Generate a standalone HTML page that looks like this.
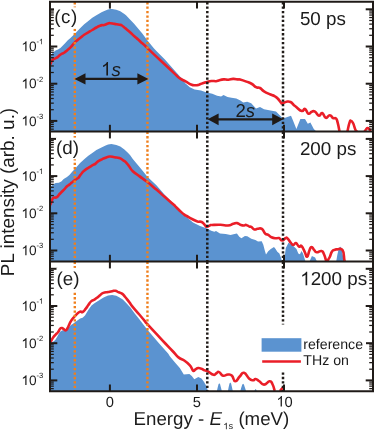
<!DOCTYPE html>
<html><head><meta charset="utf-8"><title>PL spectra</title>
<style>html,body{margin:0;padding:0;background:#fff;}svg text{font-family:"Liberation Sans",sans-serif;text-rendering:geometricPrecision;}body{width:374px;height:430px;overflow:hidden;position:relative;font-family:"Liberation Sans",sans-serif;}</style></head>
<body>
<svg width="374" height="430" viewBox="0 0 374 430" style="display:block;position:absolute;left:0;top:0" fill="#1f1a17">
<rect width="374" height="430" fill="#fff"/>
<clipPath id="cp0"><rect x="50.0" y="1.7" width="322.6" height="129.9"/></clipPath>
<clipPath id="cp1"><rect x="50.0" y="131.6" width="322.6" height="130.00000000000003"/></clipPath>
<clipPath id="cp2"><rect x="50.0" y="261.6" width="322.6" height="129.7"/></clipPath>
<g clip-path="url(#cp0)"><polygon points="50.0,131.6 50.0,55.5 51.1,54.5 53.1,52.5 55.6,50.4 58.0,49.6 60.4,48.0 62.9,45.6 65.3,43.1 67.8,40.3 70.2,38.3 72.0,36.5 76.1,32.4 80.1,28.3 84.2,24.3 88.3,21.0 92.3,17.8 96.4,15.3 102.0,12.1 105.5,10.4 108.0,9.5 110.5,9.1 112.2,9.0 116.3,9.7 120.3,11.3 124.4,13.9 126.0,15.2 130.0,19.5 134.1,23.8 142.3,33.5 147.1,40.0 153.6,48.1 156.4,51.0 164.9,59.6 173.5,69.2 180.0,76.4 184.0,80.8 185.0,82.9 189.8,87.2 194.6,89.6 201.0,90.4 206.7,92.5 212.3,93.7 217.1,95.7 221.1,96.4 223.5,94.9 227.5,96.9 231.5,97.7 236.3,98.5 240.4,100.6 243.2,102.5 247.2,101.7 251.2,103.3 256.0,108.5 260.0,107.0 264.0,109.2 270.5,110.5 276.0,111.5 283.0,118.4 291.0,115.7 293.0,120.4 296.4,129.0 300.4,119.0 305.0,119.0 307.8,123.7 310.4,122.4 313.8,129.0 316.4,131.5 316.4,131.6" fill="#5b93d0"/><path d="M49.5,65.5C49.8,65.0 50.0,64.9 50.7,63.5C51.4,62.1 51.2,61.5 52.3,60.2C53.4,58.9 53.5,59.3 54.8,58.6C56.1,57.9 55.9,58.3 57.2,57.4C58.5,56.5 58.3,56.3 59.6,55.3C60.9,54.3 60.8,54.4 62.1,53.7C63.4,53.0 63.2,53.4 64.5,52.5C65.8,51.6 65.7,51.5 67.0,50.4C68.3,49.3 68.1,49.6 69.4,48.4C70.7,47.2 70.2,47.7 71.8,46.0C73.4,44.3 73.1,44.0 75.3,41.9C77.5,39.8 77.7,40.0 80.1,38.1C82.5,36.2 82.0,36.3 84.2,34.8C86.4,33.3 86.1,33.7 88.3,32.4C90.5,31.1 90.1,31.3 92.3,30.0C94.5,28.7 94.5,28.6 96.4,27.5C98.3,26.4 98.1,26.5 99.6,25.9C101.1,25.3 100.8,25.3 102.0,25.1C103.2,24.9 102.5,25.5 104.1,25.1C105.7,24.7 106.5,24.1 108.1,23.6C109.7,23.1 108.5,23.1 110.2,23.2C111.9,23.3 112.1,23.5 114.6,23.9C117.1,24.3 117.5,24.3 119.5,24.7C121.5,25.1 120.7,24.7 122.0,25.5C123.3,26.3 123.3,26.7 124.4,27.6C125.5,28.5 124.5,27.5 126.0,28.8C127.5,30.1 127.9,30.4 130.1,32.3C132.3,34.2 131.9,34.1 134.1,36.0C136.3,37.9 136.0,37.7 138.2,39.6C140.4,41.5 140.1,41.4 142.3,43.3C144.5,45.2 144.8,45.5 146.3,46.9C147.8,48.3 145.3,46.0 148.0,48.6C150.7,51.2 151.9,52.4 156.4,56.6C160.9,60.8 160.3,60.2 164.9,64.5C169.5,68.8 170.5,69.8 173.5,72.6C176.5,75.4 174.2,73.4 176.0,75.0C177.8,76.6 177.7,77.0 180.3,78.7C182.9,80.4 182.7,79.9 185.6,81.4C188.5,82.9 188.4,83.5 191.0,84.5C193.6,85.5 193.2,85.2 195.3,85.3C197.4,85.4 197.0,85.3 199.0,84.7C201.0,84.1 200.6,83.9 202.7,83.2C204.8,82.5 204.7,82.6 207.0,82.0C209.3,81.4 208.9,81.2 211.3,81.0C213.7,80.8 214.0,81.3 216.0,81.2C218.0,81.1 216.7,81.0 218.7,80.5C220.7,80.0 220.9,79.6 223.5,79.4C226.1,79.2 225.7,79.8 228.3,79.7C230.9,79.6 230.5,79.0 233.1,78.9C235.7,78.8 236.1,79.2 237.9,79.4C239.7,79.6 237.7,78.9 240.0,79.5C242.3,80.1 243.2,80.4 246.4,81.6C249.6,82.8 249.4,82.5 252.0,84.0C254.6,85.5 253.9,86.1 256.0,87.2C258.1,88.3 257.9,86.9 260.0,88.0C262.1,89.1 261.2,89.6 264.0,91.3C266.8,93.0 267.7,93.2 270.5,94.5C273.3,95.8 272.6,95.0 274.5,96.1C276.4,97.2 276.0,96.8 277.7,98.5C279.4,100.2 279.6,101.2 280.9,102.5C282.2,103.8 281.0,103.5 282.5,103.3C284.0,103.1 284.4,102.0 286.5,101.7C288.6,101.4 288.6,101.1 290.5,102.0C292.4,102.9 292.2,103.6 293.7,104.9C295.2,106.2 293.9,105.2 296.0,106.8C298.1,108.4 299.3,110.4 301.7,111.0C304.1,111.6 303.2,108.3 305.0,109.0C306.8,109.7 306.6,113.0 308.4,113.7C310.2,114.4 310.0,112.2 311.8,111.7C313.6,111.2 313.1,110.6 315.0,111.7C316.9,112.8 317.1,115.4 319.0,115.7C320.9,116.0 320.4,112.4 322.2,113.0C324.0,113.6 323.8,117.2 325.8,117.8C327.8,118.4 327.9,115.1 329.8,115.2C331.7,115.3 331.4,117.1 333.0,118.0C334.6,118.9 334.7,117.2 335.9,118.4C337.1,119.6 336.6,118.9 337.6,122.4C338.6,125.9 339.0,129.1 339.5,131.5" fill="none" stroke="#ea1e28" stroke-width="2.6" stroke-linejoin="round" stroke-linecap="butt"/><path d="M347.4,131.5C348.0,129.1 348.6,125.2 349.6,122.4C350.6,119.6 350.1,120.8 351.0,121.0C351.9,121.2 351.8,120.7 353.0,123.0C354.2,125.3 354.3,127.4 355.4,129.7C356.5,132.0 356.6,131.0 357.0,131.5" fill="none" stroke="#ea1e28" stroke-width="2.6" stroke-linejoin="round" stroke-linecap="butt"/><path d="M364.5,131.5C364.9,131.0 365.2,130.4 366.0,129.5C366.8,128.6 366.7,128.0 367.6,128.0C368.5,128.0 368.7,128.6 369.5,129.5C370.3,130.4 370.2,131.0 370.5,131.5" fill="none" stroke="#ea1e28" stroke-width="2.6" stroke-linejoin="round" stroke-linecap="butt"/></g>
<g clip-path="url(#cp1)"><polygon points="50.0,261.6 50.0,187.0 51.1,186.3 53.1,184.6 55.6,183.0 58.8,182.8 61.3,181.4 63.7,178.9 67.0,176.9 69.4,174.9 72.0,171.9 76.1,167.4 80.1,163.0 84.2,159.3 88.3,155.8 92.3,153.0 96.4,150.1 102.0,147.2 105.6,145.4 108.1,144.4 111.4,144.0 116.3,144.9 120.3,146.6 124.4,149.5 127.6,152.4 130.0,155.0 132.8,158.9 141.4,169.3 147.4,176.7 156.4,185.3 164.9,194.9 173.5,203.7 182.0,212.6 185.0,215.7 193.0,222.4 200.0,225.9 207.2,228.6 211.2,230.7 214.4,231.8 216.0,231.0 220.0,233.4 225.7,233.9 230.5,235.1 234.5,233.9 236.9,233.4 239.3,236.7 241.4,238.3 244.9,235.9 247.3,236.2 251.3,238.7 255.4,239.9 258.0,241.5 261.7,241.2 263.3,244.8 265.0,251.3 266.0,254.5 268.2,251.3 270.8,249.1 274.0,247.0 275.6,249.1 277.3,251.8 279.4,253.4 281.0,257.7 281.8,260.6 283.6,260.6 284.5,258.0 285.8,248.0 288.5,242.8 291.2,244.3 294.4,247.0 296.5,249.1 298.3,253.4 299.9,254.3 301.5,251.0 303.0,253.5 305.5,261.5 309.5,261.5 311.9,255.9 315.1,257.5 317.0,261.5 336.2,261.5 337.3,255.0 338.3,250.5 339.4,247.2 340.3,246.7 341.2,247.8 342.2,252.0 343.2,257.0 344.0,261.5 344.0,261.6" fill="#5b93d0"/><path d="M49.5,206.0C49.9,205.2 50.4,204.7 51.1,202.9C51.8,201.1 51.6,200.7 52.3,199.3C53.0,197.9 52.7,198.2 53.9,197.6C55.1,197.0 55.3,198.2 56.8,197.2C58.3,196.2 58.2,195.5 59.6,194.0C61.0,192.5 60.8,192.8 62.1,191.5C63.4,190.2 63.2,190.5 64.5,189.1C65.8,187.7 65.7,187.5 67.0,186.3C68.3,185.1 68.1,185.6 69.4,184.6C70.7,183.6 70.4,183.7 71.8,182.6C73.2,181.5 72.9,181.5 74.5,180.4C76.1,179.3 76.4,179.3 77.7,178.3C79.0,177.3 78.2,178.0 79.3,176.6C80.4,175.2 80.5,174.8 81.8,173.2C83.1,171.6 82.5,172.1 84.2,170.7C85.9,169.3 86.1,169.2 88.3,167.8C90.5,166.4 90.4,166.5 92.3,165.4C94.2,164.3 94.1,164.7 95.6,163.6C97.1,162.5 96.3,162.5 98.0,161.4C99.7,160.3 100.0,160.3 102.0,159.3C104.0,158.3 103.5,158.4 105.6,157.7C107.7,157.0 107.3,156.6 109.7,156.5C112.1,156.4 111.9,156.9 114.5,157.3C117.1,157.7 117.0,157.3 119.3,158.1C121.6,158.9 121.4,159.1 123.3,160.4C125.2,161.7 124.7,161.0 126.4,162.8C128.1,164.6 127.9,164.8 129.6,167.0C131.3,169.2 130.2,168.8 132.8,171.2C135.4,173.6 135.4,173.2 139.3,176.1C143.2,179.0 142.8,178.5 147.4,182.1C152.0,185.7 151.7,185.6 156.4,189.6C161.1,193.6 160.3,193.1 164.9,197.1C169.5,201.1 170.5,202.0 173.5,204.6C176.5,207.2 173.9,205.0 176.0,207.0C178.1,209.0 178.9,209.9 181.3,212.1C183.7,214.3 183.6,214.1 185.0,215.1C186.4,216.1 184.8,215.0 186.7,216.0C188.6,217.0 189.1,217.6 192.0,219.0C194.9,220.4 194.8,220.6 197.4,221.4C200.0,222.2 199.7,221.0 201.7,222.0C203.7,223.0 203.5,223.8 204.9,225.1C206.3,226.4 205.6,226.8 207.0,226.8C208.4,226.8 208.9,225.7 210.2,225.2C211.5,224.7 209.2,225.1 212.0,225.0C214.8,224.9 216.3,224.7 220.6,224.8C224.9,224.9 224.6,225.8 228.0,225.5C231.4,225.2 231.0,224.4 233.4,223.8C235.8,223.2 235.1,222.8 237.1,223.1C239.1,223.4 239.0,224.4 240.9,225.0C242.8,225.6 242.7,225.5 244.1,225.5C245.5,225.5 244.8,224.6 246.2,224.9C247.6,225.2 248.1,226.1 249.4,226.6C250.7,227.1 249.9,226.1 251.2,226.8C252.5,227.5 252.7,228.9 254.4,229.4C256.1,229.9 255.6,228.9 257.6,228.8C259.6,228.7 259.9,227.6 261.9,228.9C263.9,230.2 263.4,231.9 265.1,233.5C266.8,235.1 266.6,233.8 268.3,234.8C270.0,235.8 269.5,236.4 271.5,237.3C273.5,238.2 273.8,238.1 275.8,238.3C277.8,238.5 277.3,237.5 279.0,238.1C280.7,238.7 280.5,240.5 282.2,240.5C283.9,240.5 284.0,238.8 285.4,238.2C286.8,237.6 286.0,237.1 287.5,238.4C289.0,239.7 289.4,241.2 291.0,243.0C292.6,244.8 292.1,245.0 293.4,245.0C294.7,245.0 294.4,242.6 295.9,243.0C297.4,243.4 297.5,245.8 299.0,246.6C300.5,247.4 300.0,244.6 301.5,246.0C303.0,247.4 303.2,248.9 304.7,251.8C306.2,254.7 305.8,257.1 307.1,256.7C308.4,256.3 308.3,252.8 309.5,250.2C310.7,247.6 310.3,247.0 311.6,247.0C312.9,247.0 312.9,248.8 314.3,250.2C315.7,251.6 314.8,252.1 316.7,252.3C318.6,252.5 319.6,250.5 321.5,251.0C323.4,251.5 322.7,251.5 324.0,254.3C325.3,257.1 325.7,259.6 326.3,261.5" fill="none" stroke="#ea1e28" stroke-width="2.6" stroke-linejoin="round" stroke-linecap="butt"/><path d="M326.8,261.5C327.5,260.4 328.1,260.2 329.5,257.5C330.9,254.8 330.5,253.6 332.0,251.5C333.5,249.4 333.6,250.4 335.0,249.8C336.4,249.2 335.2,249.3 337.2,249.4C339.2,249.5 340.6,247.4 342.5,250.1C344.4,252.8 343.7,256.4 344.3,259.4C344.9,262.4 344.5,260.9 344.6,261.5" fill="none" stroke="#ea1e28" stroke-width="2.6" stroke-linejoin="round" stroke-linecap="butt"/></g>
<g clip-path="url(#cp2)"><polygon points="50.0,391.3 50.0,343.8 51.9,342.2 53.9,341.3 55.6,339.5 57.2,336.7 58.8,333.8 60.4,331.4 62.5,330.3 65.3,331.0 68.6,327.7 71.0,324.9 73.0,323.7 75.3,322.0 80.1,318.5 82.6,317.7 85.0,315.6 88.3,310.0 91.5,305.5 94.8,303.0 98.0,301.0 102.0,298.6 104.1,297.2 108.1,295.5 112.2,295.0 116.3,295.8 119.5,297.4 122.8,299.5 126.0,302.7 128.5,305.6 130.0,307.0 134.5,313.2 139.3,319.3 147.2,329.5 158.5,342.7 168.1,353.6 170.0,356.4 175.0,362.4 179.8,368.0 183.8,374.5 189.4,374.1 191.8,376.1 194.3,379.3 198.3,376.9 201.5,378.5 203.9,381.7 206.0,385.5 207.1,388.1 207.9,391.0 216.9,391.0 217.8,387.0 218.5,384.3 219.3,383.2 220.1,384.3 220.8,387.0 221.8,391.0 227.9,391.0 228.8,386.5 229.5,383.6 230.3,382.5 231.1,383.6 231.8,386.5 232.8,391.0 240.3,391.0 241.3,387.5 242.3,384.6 243.1,383.8 243.9,384.6 244.9,387.5 246.1,391.0 254.4,391.0 255.1,389.5 255.6,389.0 256.1,389.5 256.8,391.0 256.8,391.3" fill="#5b93d0"/><path d="M49.5,342.8C49.8,342.5 49.7,342.9 50.7,341.5C51.7,340.1 51.8,339.3 53.1,337.5C54.4,335.7 54.3,336.0 55.6,334.6C56.9,333.2 56.8,333.7 58.0,332.2C59.2,330.7 58.9,329.9 60.0,328.8C61.1,327.7 60.9,327.8 62.1,328.1C63.3,328.4 63.4,329.2 64.5,329.8C65.6,330.4 65.2,330.8 66.1,330.2C67.0,329.6 66.9,329.3 67.8,327.7C68.7,326.1 68.3,326.2 69.4,324.1C70.5,322.0 70.0,322.3 71.8,319.8C73.6,317.3 73.9,317.0 76.1,314.8C78.3,312.6 78.4,312.3 80.1,311.6C81.8,310.9 81.1,312.8 82.6,312.0C84.1,311.2 84.3,310.5 85.8,308.7C87.3,306.9 86.9,307.0 88.3,305.1C89.7,303.2 89.4,302.9 91.1,301.4C92.8,299.9 93.0,300.6 94.8,299.4C96.6,298.2 96.6,298.0 98.0,296.9C99.4,295.8 98.6,296.3 100.0,295.2C101.4,294.1 101.1,293.8 103.3,292.9C105.5,292.0 105.7,292.5 108.1,292.0C110.5,291.5 110.3,291.5 112.2,291.2C114.1,290.9 113.7,290.5 115.4,290.8C117.1,291.1 116.9,291.6 118.7,292.3C120.5,293.0 120.3,292.3 122.0,293.6C123.7,294.9 123.5,295.0 125.2,297.0C126.9,299.0 127.2,299.5 128.5,301.1C129.8,302.7 128.8,301.5 130.0,303.1C131.2,304.7 130.4,304.2 132.9,307.2C135.4,310.2 136.3,311.0 139.3,314.5C142.3,318.0 142.0,317.7 144.2,320.3C146.4,322.9 144.1,320.6 147.4,324.2C150.7,327.8 151.7,328.9 156.4,333.9C161.1,338.9 160.3,338.2 164.9,343.0C169.5,347.8 169.9,348.2 173.5,352.0C177.1,355.8 175.5,355.1 178.5,357.4C181.5,359.7 181.7,358.8 184.6,360.8C187.5,362.8 187.5,362.8 189.4,364.8C191.3,366.8 190.7,366.8 191.8,368.4C192.9,370.0 192.4,370.6 193.4,370.9C194.4,371.2 194.2,370.2 195.5,369.4C196.8,368.6 196.7,368.2 198.3,368.0C199.9,367.8 199.8,368.2 201.5,368.8C203.2,369.4 203.0,369.7 204.7,370.4C206.4,371.1 205.6,370.1 207.9,371.3C210.2,372.5 211.2,374.3 213.5,374.8C215.8,375.3 215.0,373.9 216.5,373.2C218.0,372.5 217.3,371.4 219.1,372.1C220.9,372.8 220.8,375.1 223.1,375.7C225.4,376.3 225.5,374.5 227.9,374.5C230.3,374.5 230.1,373.9 232.0,375.7C233.9,377.5 233.1,381.1 235.2,381.3C237.3,381.5 237.4,378.8 239.7,376.5C242.0,374.2 241.5,372.3 244.0,372.8C246.5,373.3 246.7,376.4 249.0,378.4C251.3,380.4 251.0,380.1 252.8,380.3C254.6,380.5 253.9,378.8 255.6,379.0C257.3,379.2 257.1,379.7 259.3,381.2C261.5,382.7 261.3,384.6 264.0,384.6C266.7,384.6 267.4,381.4 269.6,381.2C271.8,381.0 271.0,381.4 272.4,384.0C273.8,386.6 274.1,389.1 274.7,391.0" fill="none" stroke="#ea1e28" stroke-width="2.6" stroke-linejoin="round" stroke-linecap="butt"/><path d="M280.0,391.0C280.7,390.1 282.0,388.7 282.7,387.8" fill="none" stroke="#ea1e28" stroke-width="2.6" stroke-linejoin="round" stroke-linecap="butt"/></g>
<line x1="74.8" y1="2.10" x2="74.8" y2="131.60" stroke="#f07f1c" stroke-width="2.4" stroke-dasharray="2.3 2.13"/><line x1="74.8" y1="131.65" x2="74.8" y2="261.60" stroke="#f07f1c" stroke-width="2.4" stroke-dasharray="2.3 2.13"/><line x1="74.8" y1="261.65" x2="74.8" y2="391.30" stroke="#f07f1c" stroke-width="2.4" stroke-dasharray="2.3 2.13"/>
<line x1="147.45" y1="2.10" x2="147.45" y2="131.60" stroke="#f07f1c" stroke-width="2.4" stroke-dasharray="2.3 2.13"/><line x1="147.45" y1="131.65" x2="147.45" y2="261.60" stroke="#f07f1c" stroke-width="2.4" stroke-dasharray="2.3 2.13"/><line x1="147.45" y1="261.65" x2="147.45" y2="391.30" stroke="#f07f1c" stroke-width="2.4" stroke-dasharray="2.3 2.13"/>
<line x1="207.3" y1="2.10" x2="207.3" y2="131.60" stroke="#1f1a17" stroke-width="2.5" stroke-dasharray="2.3 2.13"/><line x1="207.3" y1="131.65" x2="207.3" y2="261.60" stroke="#1f1a17" stroke-width="2.5" stroke-dasharray="2.3 2.13"/><line x1="207.3" y1="261.65" x2="207.3" y2="391.30" stroke="#1f1a17" stroke-width="2.5" stroke-dasharray="2.3 2.13"/>
<line x1="283.0" y1="2.10" x2="283.0" y2="131.60" stroke="#1f1a17" stroke-width="2.5" stroke-dasharray="2.3 2.13"/><line x1="283.0" y1="131.65" x2="283.0" y2="261.60" stroke="#1f1a17" stroke-width="2.5" stroke-dasharray="2.3 2.13"/><line x1="283.0" y1="261.65" x2="283.0" y2="391.30" stroke="#1f1a17" stroke-width="2.5" stroke-dasharray="2.3 2.13"/>
<line x1="49.0" y1="1.7" x2="374.0" y2="1.7" stroke="#1f1a17" stroke-width="2"/>
<line x1="49.0" y1="131.6" x2="374.0" y2="131.6" stroke="#1f1a17" stroke-width="2"/>
<line x1="49.0" y1="261.6" x2="374.0" y2="261.6" stroke="#1f1a17" stroke-width="2"/>
<line x1="49.0" y1="391.3" x2="374.0" y2="391.3" stroke="#1f1a17" stroke-width="2"/>
<line x1="50.0" y1="1.7" x2="50.0" y2="391.3" stroke="#1f1a17" stroke-width="2"/>
<line x1="373.0" y1="1.7" x2="373.0" y2="391.3" stroke="#1f1a17" stroke-width="2"/>
<line x1="109.9" y1="1.7" x2="109.9" y2="8.6" stroke="#1f1a17" stroke-width="2"/>
<line x1="109.9" y1="124.8" x2="109.9" y2="138.4" stroke="#1f1a17" stroke-width="2"/>
<line x1="109.9" y1="254.8" x2="109.9" y2="268.40000000000003" stroke="#1f1a17" stroke-width="2"/>
<line x1="109.9" y1="384.5" x2="109.9" y2="391.3" stroke="#1f1a17" stroke-width="2"/>
<line x1="197.0" y1="1.7" x2="197.0" y2="8.6" stroke="#1f1a17" stroke-width="2"/>
<line x1="197.0" y1="124.8" x2="197.0" y2="138.4" stroke="#1f1a17" stroke-width="2"/>
<line x1="197.0" y1="254.8" x2="197.0" y2="268.40000000000003" stroke="#1f1a17" stroke-width="2"/>
<line x1="197.0" y1="384.5" x2="197.0" y2="391.3" stroke="#1f1a17" stroke-width="2"/>
<line x1="284.0" y1="1.7" x2="284.0" y2="8.6" stroke="#1f1a17" stroke-width="2"/>
<line x1="284.0" y1="124.8" x2="284.0" y2="138.4" stroke="#1f1a17" stroke-width="2"/>
<line x1="284.0" y1="254.8" x2="284.0" y2="268.40000000000003" stroke="#1f1a17" stroke-width="2"/>
<line x1="284.0" y1="384.5" x2="284.0" y2="391.3" stroke="#1f1a17" stroke-width="2"/>
<line x1="50.0" y1="9.30" x2="57.3" y2="9.30" stroke="#1f1a17" stroke-width="2.0"/>
<line x1="373.0" y1="9.30" x2="365.7" y2="9.30" stroke="#1f1a17" stroke-width="2.0"/>
<line x1="50.0" y1="46.50" x2="57.3" y2="46.50" stroke="#1f1a17" stroke-width="2.0"/>
<line x1="373.0" y1="46.50" x2="365.7" y2="46.50" stroke="#1f1a17" stroke-width="2.0"/>
<line x1="50.0" y1="35.30" x2="53.8" y2="35.30" stroke="#1f1a17" stroke-width="1.25"/>
<line x1="373.0" y1="35.30" x2="369.2" y2="35.30" stroke="#1f1a17" stroke-width="1.25"/>
<line x1="50.0" y1="28.75" x2="53.8" y2="28.75" stroke="#1f1a17" stroke-width="1.25"/>
<line x1="373.0" y1="28.75" x2="369.2" y2="28.75" stroke="#1f1a17" stroke-width="1.25"/>
<line x1="50.0" y1="24.10" x2="53.8" y2="24.10" stroke="#1f1a17" stroke-width="1.25"/>
<line x1="373.0" y1="24.10" x2="369.2" y2="24.10" stroke="#1f1a17" stroke-width="1.25"/>
<line x1="50.0" y1="20.50" x2="53.8" y2="20.50" stroke="#1f1a17" stroke-width="1.25"/>
<line x1="373.0" y1="20.50" x2="369.2" y2="20.50" stroke="#1f1a17" stroke-width="1.25"/>
<line x1="50.0" y1="17.55" x2="53.8" y2="17.55" stroke="#1f1a17" stroke-width="1.25"/>
<line x1="373.0" y1="17.55" x2="369.2" y2="17.55" stroke="#1f1a17" stroke-width="1.25"/>
<line x1="50.0" y1="15.06" x2="53.8" y2="15.06" stroke="#1f1a17" stroke-width="1.25"/>
<line x1="373.0" y1="15.06" x2="369.2" y2="15.06" stroke="#1f1a17" stroke-width="1.25"/>
<line x1="50.0" y1="12.91" x2="53.8" y2="12.91" stroke="#1f1a17" stroke-width="1.25"/>
<line x1="373.0" y1="12.91" x2="369.2" y2="12.91" stroke="#1f1a17" stroke-width="1.25"/>
<line x1="50.0" y1="11.00" x2="53.8" y2="11.00" stroke="#1f1a17" stroke-width="1.25"/>
<line x1="373.0" y1="11.00" x2="369.2" y2="11.00" stroke="#1f1a17" stroke-width="1.25"/>
<line x1="50.0" y1="83.70" x2="57.3" y2="83.70" stroke="#1f1a17" stroke-width="2.0"/>
<line x1="373.0" y1="83.70" x2="365.7" y2="83.70" stroke="#1f1a17" stroke-width="2.0"/>
<line x1="50.0" y1="72.50" x2="53.8" y2="72.50" stroke="#1f1a17" stroke-width="1.25"/>
<line x1="373.0" y1="72.50" x2="369.2" y2="72.50" stroke="#1f1a17" stroke-width="1.25"/>
<line x1="50.0" y1="65.95" x2="53.8" y2="65.95" stroke="#1f1a17" stroke-width="1.25"/>
<line x1="373.0" y1="65.95" x2="369.2" y2="65.95" stroke="#1f1a17" stroke-width="1.25"/>
<line x1="50.0" y1="61.30" x2="53.8" y2="61.30" stroke="#1f1a17" stroke-width="1.25"/>
<line x1="373.0" y1="61.30" x2="369.2" y2="61.30" stroke="#1f1a17" stroke-width="1.25"/>
<line x1="50.0" y1="57.70" x2="53.8" y2="57.70" stroke="#1f1a17" stroke-width="1.25"/>
<line x1="373.0" y1="57.70" x2="369.2" y2="57.70" stroke="#1f1a17" stroke-width="1.25"/>
<line x1="50.0" y1="54.75" x2="53.8" y2="54.75" stroke="#1f1a17" stroke-width="1.25"/>
<line x1="373.0" y1="54.75" x2="369.2" y2="54.75" stroke="#1f1a17" stroke-width="1.25"/>
<line x1="50.0" y1="52.26" x2="53.8" y2="52.26" stroke="#1f1a17" stroke-width="1.25"/>
<line x1="373.0" y1="52.26" x2="369.2" y2="52.26" stroke="#1f1a17" stroke-width="1.25"/>
<line x1="50.0" y1="50.11" x2="53.8" y2="50.11" stroke="#1f1a17" stroke-width="1.25"/>
<line x1="373.0" y1="50.11" x2="369.2" y2="50.11" stroke="#1f1a17" stroke-width="1.25"/>
<line x1="50.0" y1="48.20" x2="53.8" y2="48.20" stroke="#1f1a17" stroke-width="1.25"/>
<line x1="373.0" y1="48.20" x2="369.2" y2="48.20" stroke="#1f1a17" stroke-width="1.25"/>
<line x1="50.0" y1="120.90" x2="57.3" y2="120.90" stroke="#1f1a17" stroke-width="2.0"/>
<line x1="373.0" y1="120.90" x2="365.7" y2="120.90" stroke="#1f1a17" stroke-width="2.0"/>
<line x1="50.0" y1="109.70" x2="53.8" y2="109.70" stroke="#1f1a17" stroke-width="1.25"/>
<line x1="373.0" y1="109.70" x2="369.2" y2="109.70" stroke="#1f1a17" stroke-width="1.25"/>
<line x1="50.0" y1="103.15" x2="53.8" y2="103.15" stroke="#1f1a17" stroke-width="1.25"/>
<line x1="373.0" y1="103.15" x2="369.2" y2="103.15" stroke="#1f1a17" stroke-width="1.25"/>
<line x1="50.0" y1="98.50" x2="53.8" y2="98.50" stroke="#1f1a17" stroke-width="1.25"/>
<line x1="373.0" y1="98.50" x2="369.2" y2="98.50" stroke="#1f1a17" stroke-width="1.25"/>
<line x1="50.0" y1="94.90" x2="53.8" y2="94.90" stroke="#1f1a17" stroke-width="1.25"/>
<line x1="373.0" y1="94.90" x2="369.2" y2="94.90" stroke="#1f1a17" stroke-width="1.25"/>
<line x1="50.0" y1="91.95" x2="53.8" y2="91.95" stroke="#1f1a17" stroke-width="1.25"/>
<line x1="373.0" y1="91.95" x2="369.2" y2="91.95" stroke="#1f1a17" stroke-width="1.25"/>
<line x1="50.0" y1="89.46" x2="53.8" y2="89.46" stroke="#1f1a17" stroke-width="1.25"/>
<line x1="373.0" y1="89.46" x2="369.2" y2="89.46" stroke="#1f1a17" stroke-width="1.25"/>
<line x1="50.0" y1="87.31" x2="53.8" y2="87.31" stroke="#1f1a17" stroke-width="1.25"/>
<line x1="373.0" y1="87.31" x2="369.2" y2="87.31" stroke="#1f1a17" stroke-width="1.25"/>
<line x1="50.0" y1="85.40" x2="53.8" y2="85.40" stroke="#1f1a17" stroke-width="1.25"/>
<line x1="373.0" y1="85.40" x2="369.2" y2="85.40" stroke="#1f1a17" stroke-width="1.25"/>
<line x1="50.0" y1="129.15" x2="53.8" y2="129.15" stroke="#1f1a17" stroke-width="1.25"/>
<line x1="373.0" y1="129.15" x2="369.2" y2="129.15" stroke="#1f1a17" stroke-width="1.25"/>
<line x1="50.0" y1="126.66" x2="53.8" y2="126.66" stroke="#1f1a17" stroke-width="1.25"/>
<line x1="373.0" y1="126.66" x2="369.2" y2="126.66" stroke="#1f1a17" stroke-width="1.25"/>
<line x1="50.0" y1="124.51" x2="53.8" y2="124.51" stroke="#1f1a17" stroke-width="1.25"/>
<line x1="373.0" y1="124.51" x2="369.2" y2="124.51" stroke="#1f1a17" stroke-width="1.25"/>
<line x1="50.0" y1="122.60" x2="53.8" y2="122.60" stroke="#1f1a17" stroke-width="1.25"/>
<line x1="373.0" y1="122.60" x2="369.2" y2="122.60" stroke="#1f1a17" stroke-width="1.25"/>
<line x1="50.0" y1="138.90" x2="57.3" y2="138.90" stroke="#1f1a17" stroke-width="2.0"/>
<line x1="373.0" y1="138.90" x2="365.7" y2="138.90" stroke="#1f1a17" stroke-width="2.0"/>
<line x1="50.0" y1="176.10" x2="57.3" y2="176.10" stroke="#1f1a17" stroke-width="2.0"/>
<line x1="373.0" y1="176.10" x2="365.7" y2="176.10" stroke="#1f1a17" stroke-width="2.0"/>
<line x1="50.0" y1="164.90" x2="53.8" y2="164.90" stroke="#1f1a17" stroke-width="1.25"/>
<line x1="373.0" y1="164.90" x2="369.2" y2="164.90" stroke="#1f1a17" stroke-width="1.25"/>
<line x1="50.0" y1="158.35" x2="53.8" y2="158.35" stroke="#1f1a17" stroke-width="1.25"/>
<line x1="373.0" y1="158.35" x2="369.2" y2="158.35" stroke="#1f1a17" stroke-width="1.25"/>
<line x1="50.0" y1="153.70" x2="53.8" y2="153.70" stroke="#1f1a17" stroke-width="1.25"/>
<line x1="373.0" y1="153.70" x2="369.2" y2="153.70" stroke="#1f1a17" stroke-width="1.25"/>
<line x1="50.0" y1="150.10" x2="53.8" y2="150.10" stroke="#1f1a17" stroke-width="1.25"/>
<line x1="373.0" y1="150.10" x2="369.2" y2="150.10" stroke="#1f1a17" stroke-width="1.25"/>
<line x1="50.0" y1="147.15" x2="53.8" y2="147.15" stroke="#1f1a17" stroke-width="1.25"/>
<line x1="373.0" y1="147.15" x2="369.2" y2="147.15" stroke="#1f1a17" stroke-width="1.25"/>
<line x1="50.0" y1="144.66" x2="53.8" y2="144.66" stroke="#1f1a17" stroke-width="1.25"/>
<line x1="373.0" y1="144.66" x2="369.2" y2="144.66" stroke="#1f1a17" stroke-width="1.25"/>
<line x1="50.0" y1="142.51" x2="53.8" y2="142.51" stroke="#1f1a17" stroke-width="1.25"/>
<line x1="373.0" y1="142.51" x2="369.2" y2="142.51" stroke="#1f1a17" stroke-width="1.25"/>
<line x1="50.0" y1="140.60" x2="53.8" y2="140.60" stroke="#1f1a17" stroke-width="1.25"/>
<line x1="373.0" y1="140.60" x2="369.2" y2="140.60" stroke="#1f1a17" stroke-width="1.25"/>
<line x1="50.0" y1="213.30" x2="57.3" y2="213.30" stroke="#1f1a17" stroke-width="2.0"/>
<line x1="373.0" y1="213.30" x2="365.7" y2="213.30" stroke="#1f1a17" stroke-width="2.0"/>
<line x1="50.0" y1="202.10" x2="53.8" y2="202.10" stroke="#1f1a17" stroke-width="1.25"/>
<line x1="373.0" y1="202.10" x2="369.2" y2="202.10" stroke="#1f1a17" stroke-width="1.25"/>
<line x1="50.0" y1="195.55" x2="53.8" y2="195.55" stroke="#1f1a17" stroke-width="1.25"/>
<line x1="373.0" y1="195.55" x2="369.2" y2="195.55" stroke="#1f1a17" stroke-width="1.25"/>
<line x1="50.0" y1="190.90" x2="53.8" y2="190.90" stroke="#1f1a17" stroke-width="1.25"/>
<line x1="373.0" y1="190.90" x2="369.2" y2="190.90" stroke="#1f1a17" stroke-width="1.25"/>
<line x1="50.0" y1="187.30" x2="53.8" y2="187.30" stroke="#1f1a17" stroke-width="1.25"/>
<line x1="373.0" y1="187.30" x2="369.2" y2="187.30" stroke="#1f1a17" stroke-width="1.25"/>
<line x1="50.0" y1="184.35" x2="53.8" y2="184.35" stroke="#1f1a17" stroke-width="1.25"/>
<line x1="373.0" y1="184.35" x2="369.2" y2="184.35" stroke="#1f1a17" stroke-width="1.25"/>
<line x1="50.0" y1="181.86" x2="53.8" y2="181.86" stroke="#1f1a17" stroke-width="1.25"/>
<line x1="373.0" y1="181.86" x2="369.2" y2="181.86" stroke="#1f1a17" stroke-width="1.25"/>
<line x1="50.0" y1="179.71" x2="53.8" y2="179.71" stroke="#1f1a17" stroke-width="1.25"/>
<line x1="373.0" y1="179.71" x2="369.2" y2="179.71" stroke="#1f1a17" stroke-width="1.25"/>
<line x1="50.0" y1="177.80" x2="53.8" y2="177.80" stroke="#1f1a17" stroke-width="1.25"/>
<line x1="373.0" y1="177.80" x2="369.2" y2="177.80" stroke="#1f1a17" stroke-width="1.25"/>
<line x1="50.0" y1="250.50" x2="57.3" y2="250.50" stroke="#1f1a17" stroke-width="2.0"/>
<line x1="373.0" y1="250.50" x2="365.7" y2="250.50" stroke="#1f1a17" stroke-width="2.0"/>
<line x1="50.0" y1="239.30" x2="53.8" y2="239.30" stroke="#1f1a17" stroke-width="1.25"/>
<line x1="373.0" y1="239.30" x2="369.2" y2="239.30" stroke="#1f1a17" stroke-width="1.25"/>
<line x1="50.0" y1="232.75" x2="53.8" y2="232.75" stroke="#1f1a17" stroke-width="1.25"/>
<line x1="373.0" y1="232.75" x2="369.2" y2="232.75" stroke="#1f1a17" stroke-width="1.25"/>
<line x1="50.0" y1="228.10" x2="53.8" y2="228.10" stroke="#1f1a17" stroke-width="1.25"/>
<line x1="373.0" y1="228.10" x2="369.2" y2="228.10" stroke="#1f1a17" stroke-width="1.25"/>
<line x1="50.0" y1="224.50" x2="53.8" y2="224.50" stroke="#1f1a17" stroke-width="1.25"/>
<line x1="373.0" y1="224.50" x2="369.2" y2="224.50" stroke="#1f1a17" stroke-width="1.25"/>
<line x1="50.0" y1="221.55" x2="53.8" y2="221.55" stroke="#1f1a17" stroke-width="1.25"/>
<line x1="373.0" y1="221.55" x2="369.2" y2="221.55" stroke="#1f1a17" stroke-width="1.25"/>
<line x1="50.0" y1="219.06" x2="53.8" y2="219.06" stroke="#1f1a17" stroke-width="1.25"/>
<line x1="373.0" y1="219.06" x2="369.2" y2="219.06" stroke="#1f1a17" stroke-width="1.25"/>
<line x1="50.0" y1="216.91" x2="53.8" y2="216.91" stroke="#1f1a17" stroke-width="1.25"/>
<line x1="373.0" y1="216.91" x2="369.2" y2="216.91" stroke="#1f1a17" stroke-width="1.25"/>
<line x1="50.0" y1="215.00" x2="53.8" y2="215.00" stroke="#1f1a17" stroke-width="1.25"/>
<line x1="373.0" y1="215.00" x2="369.2" y2="215.00" stroke="#1f1a17" stroke-width="1.25"/>
<line x1="50.0" y1="258.75" x2="53.8" y2="258.75" stroke="#1f1a17" stroke-width="1.25"/>
<line x1="373.0" y1="258.75" x2="369.2" y2="258.75" stroke="#1f1a17" stroke-width="1.25"/>
<line x1="50.0" y1="256.26" x2="53.8" y2="256.26" stroke="#1f1a17" stroke-width="1.25"/>
<line x1="373.0" y1="256.26" x2="369.2" y2="256.26" stroke="#1f1a17" stroke-width="1.25"/>
<line x1="50.0" y1="254.11" x2="53.8" y2="254.11" stroke="#1f1a17" stroke-width="1.25"/>
<line x1="373.0" y1="254.11" x2="369.2" y2="254.11" stroke="#1f1a17" stroke-width="1.25"/>
<line x1="50.0" y1="252.20" x2="53.8" y2="252.20" stroke="#1f1a17" stroke-width="1.25"/>
<line x1="373.0" y1="252.20" x2="369.2" y2="252.20" stroke="#1f1a17" stroke-width="1.25"/>
<line x1="50.0" y1="268.80" x2="57.3" y2="268.80" stroke="#1f1a17" stroke-width="2.0"/>
<line x1="373.0" y1="268.80" x2="365.7" y2="268.80" stroke="#1f1a17" stroke-width="2.0"/>
<line x1="50.0" y1="306.00" x2="57.3" y2="306.00" stroke="#1f1a17" stroke-width="2.0"/>
<line x1="373.0" y1="306.00" x2="365.7" y2="306.00" stroke="#1f1a17" stroke-width="2.0"/>
<line x1="50.0" y1="294.80" x2="53.8" y2="294.80" stroke="#1f1a17" stroke-width="1.25"/>
<line x1="373.0" y1="294.80" x2="369.2" y2="294.80" stroke="#1f1a17" stroke-width="1.25"/>
<line x1="50.0" y1="288.25" x2="53.8" y2="288.25" stroke="#1f1a17" stroke-width="1.25"/>
<line x1="373.0" y1="288.25" x2="369.2" y2="288.25" stroke="#1f1a17" stroke-width="1.25"/>
<line x1="50.0" y1="283.60" x2="53.8" y2="283.60" stroke="#1f1a17" stroke-width="1.25"/>
<line x1="373.0" y1="283.60" x2="369.2" y2="283.60" stroke="#1f1a17" stroke-width="1.25"/>
<line x1="50.0" y1="280.00" x2="53.8" y2="280.00" stroke="#1f1a17" stroke-width="1.25"/>
<line x1="373.0" y1="280.00" x2="369.2" y2="280.00" stroke="#1f1a17" stroke-width="1.25"/>
<line x1="50.0" y1="277.05" x2="53.8" y2="277.05" stroke="#1f1a17" stroke-width="1.25"/>
<line x1="373.0" y1="277.05" x2="369.2" y2="277.05" stroke="#1f1a17" stroke-width="1.25"/>
<line x1="50.0" y1="274.56" x2="53.8" y2="274.56" stroke="#1f1a17" stroke-width="1.25"/>
<line x1="373.0" y1="274.56" x2="369.2" y2="274.56" stroke="#1f1a17" stroke-width="1.25"/>
<line x1="50.0" y1="272.41" x2="53.8" y2="272.41" stroke="#1f1a17" stroke-width="1.25"/>
<line x1="373.0" y1="272.41" x2="369.2" y2="272.41" stroke="#1f1a17" stroke-width="1.25"/>
<line x1="50.0" y1="270.50" x2="53.8" y2="270.50" stroke="#1f1a17" stroke-width="1.25"/>
<line x1="373.0" y1="270.50" x2="369.2" y2="270.50" stroke="#1f1a17" stroke-width="1.25"/>
<line x1="50.0" y1="343.20" x2="57.3" y2="343.20" stroke="#1f1a17" stroke-width="2.0"/>
<line x1="373.0" y1="343.20" x2="365.7" y2="343.20" stroke="#1f1a17" stroke-width="2.0"/>
<line x1="50.0" y1="332.00" x2="53.8" y2="332.00" stroke="#1f1a17" stroke-width="1.25"/>
<line x1="373.0" y1="332.00" x2="369.2" y2="332.00" stroke="#1f1a17" stroke-width="1.25"/>
<line x1="50.0" y1="325.45" x2="53.8" y2="325.45" stroke="#1f1a17" stroke-width="1.25"/>
<line x1="373.0" y1="325.45" x2="369.2" y2="325.45" stroke="#1f1a17" stroke-width="1.25"/>
<line x1="50.0" y1="320.80" x2="53.8" y2="320.80" stroke="#1f1a17" stroke-width="1.25"/>
<line x1="373.0" y1="320.80" x2="369.2" y2="320.80" stroke="#1f1a17" stroke-width="1.25"/>
<line x1="50.0" y1="317.20" x2="53.8" y2="317.20" stroke="#1f1a17" stroke-width="1.25"/>
<line x1="373.0" y1="317.20" x2="369.2" y2="317.20" stroke="#1f1a17" stroke-width="1.25"/>
<line x1="50.0" y1="314.25" x2="53.8" y2="314.25" stroke="#1f1a17" stroke-width="1.25"/>
<line x1="373.0" y1="314.25" x2="369.2" y2="314.25" stroke="#1f1a17" stroke-width="1.25"/>
<line x1="50.0" y1="311.76" x2="53.8" y2="311.76" stroke="#1f1a17" stroke-width="1.25"/>
<line x1="373.0" y1="311.76" x2="369.2" y2="311.76" stroke="#1f1a17" stroke-width="1.25"/>
<line x1="50.0" y1="309.61" x2="53.8" y2="309.61" stroke="#1f1a17" stroke-width="1.25"/>
<line x1="373.0" y1="309.61" x2="369.2" y2="309.61" stroke="#1f1a17" stroke-width="1.25"/>
<line x1="50.0" y1="307.70" x2="53.8" y2="307.70" stroke="#1f1a17" stroke-width="1.25"/>
<line x1="373.0" y1="307.70" x2="369.2" y2="307.70" stroke="#1f1a17" stroke-width="1.25"/>
<line x1="50.0" y1="380.40" x2="57.3" y2="380.40" stroke="#1f1a17" stroke-width="2.0"/>
<line x1="373.0" y1="380.40" x2="365.7" y2="380.40" stroke="#1f1a17" stroke-width="2.0"/>
<line x1="50.0" y1="369.20" x2="53.8" y2="369.20" stroke="#1f1a17" stroke-width="1.25"/>
<line x1="373.0" y1="369.20" x2="369.2" y2="369.20" stroke="#1f1a17" stroke-width="1.25"/>
<line x1="50.0" y1="362.65" x2="53.8" y2="362.65" stroke="#1f1a17" stroke-width="1.25"/>
<line x1="373.0" y1="362.65" x2="369.2" y2="362.65" stroke="#1f1a17" stroke-width="1.25"/>
<line x1="50.0" y1="358.00" x2="53.8" y2="358.00" stroke="#1f1a17" stroke-width="1.25"/>
<line x1="373.0" y1="358.00" x2="369.2" y2="358.00" stroke="#1f1a17" stroke-width="1.25"/>
<line x1="50.0" y1="354.40" x2="53.8" y2="354.40" stroke="#1f1a17" stroke-width="1.25"/>
<line x1="373.0" y1="354.40" x2="369.2" y2="354.40" stroke="#1f1a17" stroke-width="1.25"/>
<line x1="50.0" y1="351.45" x2="53.8" y2="351.45" stroke="#1f1a17" stroke-width="1.25"/>
<line x1="373.0" y1="351.45" x2="369.2" y2="351.45" stroke="#1f1a17" stroke-width="1.25"/>
<line x1="50.0" y1="348.96" x2="53.8" y2="348.96" stroke="#1f1a17" stroke-width="1.25"/>
<line x1="373.0" y1="348.96" x2="369.2" y2="348.96" stroke="#1f1a17" stroke-width="1.25"/>
<line x1="50.0" y1="346.81" x2="53.8" y2="346.81" stroke="#1f1a17" stroke-width="1.25"/>
<line x1="373.0" y1="346.81" x2="369.2" y2="346.81" stroke="#1f1a17" stroke-width="1.25"/>
<line x1="50.0" y1="344.90" x2="53.8" y2="344.90" stroke="#1f1a17" stroke-width="1.25"/>
<line x1="373.0" y1="344.90" x2="369.2" y2="344.90" stroke="#1f1a17" stroke-width="1.25"/>
<line x1="50.0" y1="388.65" x2="53.8" y2="388.65" stroke="#1f1a17" stroke-width="1.25"/>
<line x1="373.0" y1="388.65" x2="369.2" y2="388.65" stroke="#1f1a17" stroke-width="1.25"/>
<line x1="50.0" y1="386.16" x2="53.8" y2="386.16" stroke="#1f1a17" stroke-width="1.25"/>
<line x1="373.0" y1="386.16" x2="369.2" y2="386.16" stroke="#1f1a17" stroke-width="1.25"/>
<line x1="50.0" y1="384.01" x2="53.8" y2="384.01" stroke="#1f1a17" stroke-width="1.25"/>
<line x1="373.0" y1="384.01" x2="369.2" y2="384.01" stroke="#1f1a17" stroke-width="1.25"/>
<line x1="50.0" y1="382.10" x2="53.8" y2="382.10" stroke="#1f1a17" stroke-width="1.25"/>
<line x1="373.0" y1="382.10" x2="369.2" y2="382.10" stroke="#1f1a17" stroke-width="1.25"/>
<rect x="54" y="7.3" width="24" height="21.4" fill="#fff"/>
<rect x="56" y="137.6" width="24" height="21.7" fill="#fff"/>
<rect x="56.5" y="267.9" width="24" height="23" fill="#fff"/>
<rect x="258" y="324.5" width="108" height="46.5" fill="#fff"/>
<line x1="84.5" y1="78.9" x2="138.4" y2="78.9" stroke="#1f1a17" stroke-width="2.3"/><polygon points="74.5,78.9 85.5,73.2 85.5,84.60000000000001" fill="#1f1a17"/><polygon points="148.4,78.9 137.4,73.2 137.4,84.60000000000001" fill="#1f1a17"/>
<line x1="217.6" y1="119.3" x2="273.2" y2="119.3" stroke="#1f1a17" stroke-width="2.3"/><polygon points="207.6,119.3 218.6,113.39999999999999 218.6,125.2" fill="#1f1a17"/><polygon points="283.2,119.3 272.2,113.39999999999999 272.2,125.2" fill="#1f1a17"/>
<rect x="261.6" y="338.2" width="39.8" height="13.5" fill="#5b93d0"/>
<line x1="262.2" y1="361.5" x2="300.9" y2="361.5" stroke="#ea1e28" stroke-width="2.5"/>
<g style="filter:grayscale(1)"><path transform="translate(21.40,51.20) scale(0.00669,-0.00669)" d="M763 0H583V1147Q518 1085 412.5 1023T223 930V1104Q373 1174.5 485 1275T644 1470H763Z"/>
<text x="29.02" y="51.2" font-size="13.7">0</text>
<text x="36.43" y="44.3" font-size="7.6">-</text>
<path transform="translate(38.97,44.30) scale(0.00371,-0.00371)" d="M763 0H583V1147Q518 1085 412.5 1023T223 930V1104Q373 1174.5 485 1275T644 1470H763Z"/>
<path transform="translate(21.40,88.40) scale(0.00669,-0.00669)" d="M763 0H583V1147Q518 1085 412.5 1023T223 930V1104Q373 1174.5 485 1275T644 1470H763Z"/>
<text x="29.02" y="88.4" font-size="13.7">0</text>
<text x="36.43" y="81.5" font-size="7.6">-2</text>
<path transform="translate(21.40,125.60) scale(0.00669,-0.00669)" d="M763 0H583V1147Q518 1085 412.5 1023T223 930V1104Q373 1174.5 485 1275T644 1470H763Z"/>
<text x="29.02" y="125.6" font-size="13.7">0</text>
<text x="36.43" y="118.7" font-size="7.6">-3</text>
<path transform="translate(21.40,180.80) scale(0.00669,-0.00669)" d="M763 0H583V1147Q518 1085 412.5 1023T223 930V1104Q373 1174.5 485 1275T644 1470H763Z"/>
<text x="29.02" y="180.8" font-size="13.7">0</text>
<text x="36.43" y="173.9" font-size="7.6">-</text>
<path transform="translate(38.97,173.90) scale(0.00371,-0.00371)" d="M763 0H583V1147Q518 1085 412.5 1023T223 930V1104Q373 1174.5 485 1275T644 1470H763Z"/>
<path transform="translate(21.40,218.00) scale(0.00669,-0.00669)" d="M763 0H583V1147Q518 1085 412.5 1023T223 930V1104Q373 1174.5 485 1275T644 1470H763Z"/>
<text x="29.02" y="218.0" font-size="13.7">0</text>
<text x="36.43" y="211.1" font-size="7.6">-2</text>
<path transform="translate(21.40,255.20) scale(0.00669,-0.00669)" d="M763 0H583V1147Q518 1085 412.5 1023T223 930V1104Q373 1174.5 485 1275T644 1470H763Z"/>
<text x="29.02" y="255.2" font-size="13.7">0</text>
<text x="36.43" y="248.3" font-size="7.6">-3</text>
<path transform="translate(21.40,310.70) scale(0.00669,-0.00669)" d="M763 0H583V1147Q518 1085 412.5 1023T223 930V1104Q373 1174.5 485 1275T644 1470H763Z"/>
<text x="29.02" y="310.7" font-size="13.7">0</text>
<text x="36.43" y="303.8" font-size="7.6">-</text>
<path transform="translate(38.97,303.80) scale(0.00371,-0.00371)" d="M763 0H583V1147Q518 1085 412.5 1023T223 930V1104Q373 1174.5 485 1275T644 1470H763Z"/>
<path transform="translate(21.40,347.90) scale(0.00669,-0.00669)" d="M763 0H583V1147Q518 1085 412.5 1023T223 930V1104Q373 1174.5 485 1275T644 1470H763Z"/>
<text x="29.02" y="347.9" font-size="13.7">0</text>
<text x="36.43" y="341.0" font-size="7.6">-2</text>
<path transform="translate(21.40,385.10) scale(0.00669,-0.00669)" d="M763 0H583V1147Q518 1085 412.5 1023T223 930V1104Q373 1174.5 485 1275T644 1470H763Z"/>
<text x="29.02" y="385.1" font-size="13.7">0</text>
<text x="36.43" y="378.2" font-size="7.6">-3</text>
<text x="109.8" y="406.6" font-size="14.7" text-anchor="middle">0</text>
<text x="196.9" y="406.6" font-size="14.7" text-anchor="middle">5</text>
<path transform="translate(276.43,406.60) scale(0.00718,-0.00718)" d="M763 0H583V1147Q518 1085 412.5 1023T223 930V1104Q373 1174.5 485 1275T644 1470H763Z"/>
<text x="284.6" y="406.6" font-size="14.7">0</text>
<text x="133.6" y="425.4" font-size="18.7">Energy -</text>
<text x="209.6" y="425.4" font-size="18.7" font-style="italic">E</text>
<path transform="translate(223.30,429.30) scale(0.00449,-0.00449)" d="M763 0H583V1147Q518 1085 412.5 1023T223 930V1104Q373 1174.5 485 1275T644 1470H763Z"/>
<text x="228.42" y="429.3" font-size="9.2">s</text>
<text x="238.4" y="425.4" font-size="18.7">(meV)</text>
<text transform="translate(14.0,192.0) rotate(-90)" font-size="18.9" text-anchor="middle">PL intensity (arb. u.)</text>
<text x="54.3" y="23.2" font-size="18.8">(</text>
<text x="61.1" y="23.2" font-size="18.8">c</text>
<text x="71.05" y="23.2" font-size="18.8">)</text>
<text x="56.1" y="154.1" font-size="18.8">(d)</text>
<text x="56.6" y="284.5" font-size="18.8">(e)</text>
<text x="299.9" y="25.3" font-size="18.8">50 ps</text>
<text x="299.9" y="154.8" font-size="18.8">200 ps</text>
<path transform="translate(300.20,285.20) scale(0.00918,-0.00918)" d="M763 0H583V1147Q518 1085 412.5 1023T223 930V1104Q373 1174.5 485 1275T644 1470H763Z"/>
<text x="310.65" y="285.2" font-size="18.8">200 ps</text>
<path transform="translate(101.00,75.60) scale(0.00918,-0.00918)" d="M763 0H583V1147Q518 1085 412.5 1023T223 930V1104Q373 1174.5 485 1275T644 1470H763Z"/>
<text x="111.45" y="75.6" font-size="18.8" font-style="italic">s</text>
<text x="235.4" y="116.7" font-size="18.6">2<tspan font-style="italic">s</tspan></text>
<text x="303.3" y="348.5" font-size="14.15">reference</text>
<text x="303.3" y="365.4" font-size="14.15">THz on</text></g>
</svg>
</body></html>
